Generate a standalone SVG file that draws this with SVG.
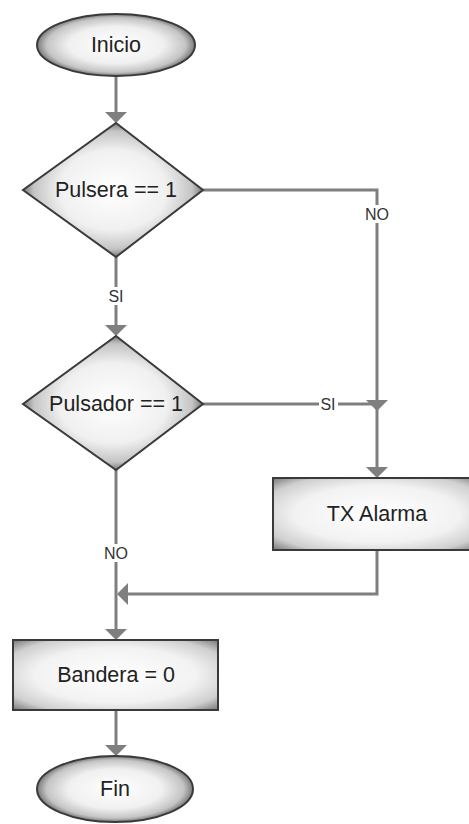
<svg xmlns="http://www.w3.org/2000/svg" width="469" height="824" viewBox="0 0 469 824">
  <defs>
    <radialGradient id="shade" cx="50%" cy="50%" r="50%">
      <stop offset="0" stop-color="#ffffff"/>
      <stop offset="0.6" stop-color="#f0f0f0"/>
      <stop offset="0.88" stop-color="#c4c4c4"/>
      <stop offset="1" stop-color="#7a7a7a"/>
    </radialGradient>
    <radialGradient id="shadeBox" cx="50%" cy="50%" r="72%">
      <stop offset="0" stop-color="#ffffff"/>
      <stop offset="0.55" stop-color="#f2f2f2"/>
      <stop offset="0.8" stop-color="#cfcfcf"/>
      <stop offset="1" stop-color="#6e6e6e"/>
    </radialGradient>
    <!-- arrowhead pointing down, tip at (0,0) -->
    <path id="head" d="M-11,-11 L0,0 L11,-11 Z" fill="#7f7f7f"/>
  </defs>
  <style>
    .shape { stroke: #3a3a3a; stroke-width: 2; }
    .ell { fill: url(#shade); }
    .box { fill: url(#shadeBox); }
    .lbl { font-family: "Liberation Sans", Arial, sans-serif; font-size: 21.5px; fill: #222; text-anchor: middle; dominant-baseline: central; }
    .edge { fill: none; stroke: #7f7f7f; stroke-width: 3; }
    .elbl { font-family: "Liberation Sans", Arial, sans-serif; font-size: 16px; fill: #333; text-anchor: middle; dominant-baseline: central; }
    .bg { fill: #ffffff; }
  </style>

  <!-- connectors -->
  <g id="connectors">
    <path class="edge" d="M116,77 V112"/>
    <use href="#head" transform="translate(116,123)"/>

    <path class="edge" d="M116,257 V325"/>
    <use href="#head" transform="translate(116,336)"/>
    <rect class="bg" x="105" y="287" width="22" height="18"/>
    <text class="elbl" x="116" y="296">SI</text>

    <path class="edge" d="M203,190 H377 V467"/>
    <use href="#head" transform="translate(377,478)"/>
    <rect class="bg" x="363" y="205" width="28" height="18"/>
    <text class="elbl" x="377" y="214">NO</text>

    <path class="edge" d="M203,404 H377"/>
    <use href="#head" transform="translate(377,411)"/>
    <rect class="bg" x="319" y="395" width="19" height="18"/>
    <text class="elbl" x="328" y="404">SI</text>

    <path class="edge" d="M116,470 V629"/>
    <use href="#head" transform="translate(116,640)"/>
    <rect class="bg" x="102" y="544" width="28" height="18"/>
    <text class="elbl" x="116" y="553">NO</text>

    <path class="edge" d="M377,550 V594 H128"/>
    <use href="#head" transform="translate(117,594) rotate(90)"/>

    <path class="edge" d="M116,710 V745"/>
    <use href="#head" transform="translate(116,756)"/>
  </g>

  <!-- nodes -->
  <g id="inicio">
    <ellipse class="shape ell" cx="116" cy="45" rx="79" ry="31"/>
    <text class="lbl" x="116" y="45">Inicio</text>
  </g>

  <g id="pulsera">
    <polygon class="shape ell" points="116,123 203,190 116,257 23,190"/>
    <text class="lbl" x="116" y="190">Pulsera == 1</text>
  </g>

  <g id="pulsador">
    <polygon class="shape ell" points="116,336 203,404 116,470 23,404"/>
    <text class="lbl" x="116" y="404">Pulsador == 1</text>
  </g>

  <g id="tx-alarma">
    <rect class="shape box" x="273" y="478" width="208" height="72"/>
    <text class="lbl" x="377" y="514">TX Alarma</text>
  </g>

  <g id="bandera">
    <rect class="shape box" x="13" y="640" width="205" height="70"/>
    <text class="lbl" x="116" y="675">Bandera = 0</text>
  </g>

  <g id="fin">
    <ellipse class="shape ell" cx="115" cy="789" rx="78" ry="33"/>
    <text class="lbl" x="115" y="789">Fin</text>
  </g>
</svg>
